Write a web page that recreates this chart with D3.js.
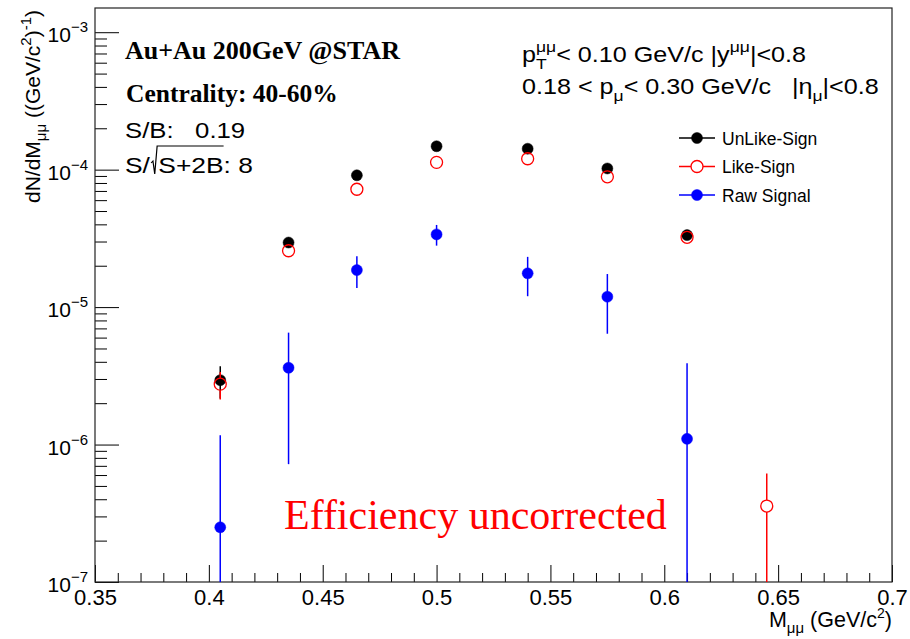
<!DOCTYPE html>
<html>
<head>
<meta charset="utf-8">
<script src="https://cdn.jsdelivr.net/npm/d3@7"></script>
<style>
  body { margin: 0; background: #fff; }
  text { white-space: pre; }
</style>
</head>
<body>
<div id="chart"></div>
<script>

// dimuon invariant mass bins (GeV/c^2)
const massBins = [0.405, 0.435, 0.465, 0.5, 0.54, 0.575, 0.61, 0.645];

// dN/dM values (null = not drawn)
const unlikeSign    = [2.94e-6, 2.95e-5, 9.1e-5, 1.48e-4, 1.42e-4, 1.02e-4, 3.34e-5, null];
const unlikeSignErr = [0.78e-6, 2.05e-6, 3.4e-6, 4.1e-6, 4.0e-6, 3.9e-6, 2.0e-6, null];
const likeSign      = [2.75e-6, 2.57e-5, 7.2e-5, 1.13e-4, 1.2e-4, 8.87e-5, 3.22e-5, 3.57e-7];
const likeSignErr   = [0.62e-6, 2.05e-6, 3.4e-6, 4.1e-6, 4.0e-6, 3.9e-6, 2.0e-6, 2.6e-7];
const rawSignal     = [2.5e-7, 3.62e-6, 1.86e-5, 3.38e-5, 1.76e-5, 1.19e-5, 1.10e-6, null];
const rawSignalErr  = [9.2e-7, 2.9e-6, 4.8e-6, 5.8e-6, 5.6e-6, 5.5e-6, 2.8e-6, null];

// axis ranges and tick labels
const xRange = [0.35, 0.7];
const yRange = [1e-7, 1.5e-3];
const xTickValues = [0.35, 0.4, 0.45, 0.5, 0.55, 0.6, 0.65, 0.7];
const xTickLabels = ["0.35", "0.4", "0.45", "0.5", "0.55", "0.6", "0.65", "0.7"];
const yTickValues = [1e-7, 1e-6, 1e-5, 1e-4, 1e-3];
const yTickExponents = ["\u22127", "\u22126", "\u22125", "\u22124", "\u22123"];

const legendLabels = ["UnLike-Sign", "Like-Sign", "Raw Signal"];

const SANS = "'Liberation Sans', Arial, Helvetica, sans-serif";
const SERIF = "'Liberation Serif', 'Times New Roman', serif";

const width = 910, height = 639;
const margin = { top: 8, right: 18, bottom: 57, left: 95 };

const svg = d3.select("#chart").append("svg")
  .attr("width", width)
  .attr("height", height)
  .style("font-family", SANS);

const x = d3.scaleLinear().domain(xRange).range([margin.left, width - margin.right]);
const y = d3.scaleLog().domain(yRange).range([height - margin.bottom, margin.top]);
const yBottom = y.range()[0], yTop = y.range()[1];

// ---- axes (ROOT style: ticks inside the frame)
let xMinor = [];
for (let v = 0.36; v < 0.7; v += 0.01) {
  let r = Math.round(v * 100) / 100;
  if (Math.round(r * 100) % 5 !== 0) xMinor.push(r);
}
let yMinor = [];
for (let e = -7; e <= -3; e++) {
  for (let k = 2; k <= 9; k++) {
    let v = k * Math.pow(10, e);
    if (v < yRange[1]) yMinor.push(v);
  }
}

const xAxisG = svg.append("g")
  .attr("transform", "translate(0," + yBottom + ")")
  .call(d3.axisBottom(x).tickValues(xTickValues).tickSize(-17).tickPadding(7)
    .tickFormat((d, i) => xTickLabels[i]));
xAxisG.select(".domain").remove();
xAxisG.selectAll("text").style("font-size", "22px").style("font-family", SANS).attr("fill", "#000");

const xMinorG = svg.append("g")
  .attr("transform", "translate(0," + yBottom + ")")
  .call(d3.axisBottom(x).tickValues(xMinor).tickSize(-9).tickFormat(""));
xMinorG.select(".domain").remove();

const yAxisG = svg.append("g")
  .attr("transform", "translate(" + margin.left + ",0)")
  .call(d3.axisLeft(y).tickValues(yTickValues).tickSize(-24).tickFormat(""));
yAxisG.select(".domain").remove();

const yMinorG = svg.append("g")
  .attr("transform", "translate(" + margin.left + ",0)")
  .call(d3.axisLeft(y).tickValues(yMinor).tickSize(-12).tickFormat(""));
yMinorG.select(".domain").remove();

svg.selectAll(".tick line").attr("stroke", "#000").attr("stroke-width", 1);

// y tick labels 10^-n
yTickValues.forEach((v, i) => {
  const t = svg.append("text")
    .attr("x", margin.left - 7)
    .attr("y", y(v) + 10)
    .attr("text-anchor", "end")
    .style("font-size", "21px");
  t.append("tspan").text("10");
  t.append("tspan").attr("dy", -10).style("font-size", "15px").text(yTickExponents[i]);
});

// frame
svg.append("rect")
  .attr("x", margin.left).attr("y", margin.top)
  .attr("width", width - margin.left - margin.right)
  .attr("height", height - margin.top - margin.bottom)
  .attr("fill", "none").attr("stroke", "#222").attr("stroke-width", 1.2);

// ---- helper for pieces of text with sub/superscripts
function richText(g, x0, y0, parts, size) {
  let cx = x0;
  parts.forEach(p => {
    const items = p.stack ? p.stack : [p];
    let w = 0;
    items.forEach(q => {
      const t = g.append("text")
        .attr("x", cx)
        .attr("y", y0 + (q.dy || 0))
        .style("font-size", (q.s || size) + "px")
        .text(q.t);
      w = Math.max(w, t.node().getComputedTextLength());
    });
    cx += w;
  });
  return cx - x0;
}

// group stretched horizontally around x0 (the reference sans text is wider)
function stretched(x0, s) {
  return svg.append("g")
    .attr("transform", "translate(" + x0 + ",0) scale(" + s + ",1) translate(" + (-x0) + ",0)");
}

// ---- axis titles
const xTitle = svg.append("g");
const xtw = richText(xTitle, 0, 0, [
  { t: "M" },
  { t: "\u03bc\u03bc", dy: 6, s: 15 },
  { t: " (GeV/c" },
  { t: "2", dy: -9, s: 14 },
  { t: ")" }
], 21.5);
xTitle.attr("transform", "translate(" + (width - margin.right - xtw) + ",627)");

const yTitle = svg.append("g");
const ytw = richText(yTitle, 0, 0, [
  { t: "dN/dM" },
  { t: "\u03bc\u03bc", dy: 6, s: 15 },
  { t: " ((GeV/c" },
  { t: "2", dy: -9, s: 15 },
  { t: ")" },
  { t: "-1", dy: -9, s: 15 },
  { t: ")" }
], 21);
yTitle.attr("transform", "translate(40," + (10 + ytw) + ") rotate(-90)");

// ---- data marks
function series(vals, errs, color, filled, r) {
  const g = svg.append("g");
  const pts = massBins.map((m, i) => ({ m: m, v: vals[i], e: errs[i] })).filter(d => d.v !== null);
  const clipY = v => v <= yRange[0] ? yBottom : Math.max(yTop, y(v));
  pts.forEach(d => {
    const cx = x(d.m), cy = y(d.v);
    const yHi = clipY(d.v + d.e), yLo = clipY(d.v - d.e);
    const gap = filled ? 0 : r;
    if (cy - gap > yHi) {
      g.append("line").attr("x1", cx).attr("x2", cx).attr("y1", cy - gap).attr("y2", yHi)
        .attr("stroke", color).attr("stroke-width", 1.5);
    }
    if (yLo > cy + gap) {
      g.append("line").attr("x1", cx).attr("x2", cx).attr("y1", cy + gap).attr("y2", yLo)
        .attr("stroke", color).attr("stroke-width", 1.5);
    }
  });
  g.selectAll("circle").data(pts).join("circle")
    .attr("cx", d => x(d.m))
    .attr("cy", d => y(d.v))
    .attr("r", r)
    .attr("fill", filled ? color : "none")
    .attr("stroke", color)
    .attr("stroke-width", filled ? 0.5 : 1.3);
}

series(unlikeSign, unlikeSignErr, "#000000", true, 5.5);
series(likeSign, likeSignErr, "#ff0000", false, 6);
series(rawSignal, rawSignalErr, "#0000ff", true, 5.5);

// ---- legend
const legendColors = ["#000000", "#ff0000", "#0000ff"];
const legendFilled = [true, false, true];
const legend = svg.append("g");
legendLabels.forEach((lab, i) => {
  const ly = 138 + i * 28.5;
  legend.append("line").attr("x1", 679).attr("x2", 715).attr("y1", ly).attr("y2", ly)
    .attr("stroke", legendColors[i]).attr("stroke-width", 1.5);
  legend.append("circle").attr("cx", 697).attr("cy", ly).attr("r", legendFilled[i] ? 5.5 : 6)
    .attr("fill", legendFilled[i] ? legendColors[i] : "#fff")
    .attr("stroke", legendColors[i]).attr("stroke-width", legendFilled[i] ? 0.5 : 1.3);
  legend.append("text").attr("x", 722).attr("y", ly + 6.5)
    .style("font-size", "17.5px").text(lab);
});

// ---- annotations
svg.append("text").attr("x", 125).attr("y", 59)
  .style("font-family", SERIF).style("font-weight", "bold").style("font-size", "26px")
  .text("Au+Au 200GeV @STAR");
svg.append("text").attr("x", 126).attr("y", 102)
  .style("font-family", SERIF).style("font-weight", "bold").style("font-size", "25.5px")
  .text("Centrality: 40-60%");

stretched(125, 1.17).append("text").attr("x", 125).attr("y", 138)
  .style("font-size", "22px").text("S/B:   0.19");

// S/sqrt(S+2B) with a drawn root sign
const sq = stretched(125, 1.2);
const w1 = richText(sq, 125, 173, [{ t: "S/" }], 22);
const rx = 125 + w1 + 1;
const w3 = richText(sq, rx + 6, 173, [{ t: "S+2B" }], 22);
richText(sq, rx + 6 + w3, 173, [{ t: ": 8" }], 22);
sq.append("path")
  .attr("d", "M" + rx + ",163 L" + (rx + 1.5) + ",161 L" + (rx + 3) + ",174 L" + (rx + 5) + ",146 L" + (rx + 6 + w3) + ",146")
  .attr("fill", "none").attr("stroke", "#000").attr("stroke-width", 1);

const cuts = stretched(522, 1.17);
richText(cuts, 522, 62, [
  { t: "p" },
  { stack: [{ t: "T", dy: 7, s: 15 }, { t: "\u03bc\u03bc", dy: -10, s: 15 }] },
  { t: "< 0.10 GeV/c |y" },
  { t: "\u03bc\u03bc", dy: -10, s: 15 },
  { t: "|<0.8" }
], 21.5);
richText(cuts, 522, 94, [
  { t: "0.18 < p" },
  { t: "\u03bc", dy: 7, s: 15 },
  { t: "< 0.30 GeV/c   |\u03b7" },
  { t: "\u03bc", dy: 7, s: 15 },
  { t: "|<0.8" }
], 21.5);

svg.append("text").attr("x", 284).attr("y", 529)
  .attr("fill", "#ff0000")
  .style("font-family", SERIF).style("font-size", "42px")
  .text("Efficiency uncorrected");

</script>
</body>
</html>
